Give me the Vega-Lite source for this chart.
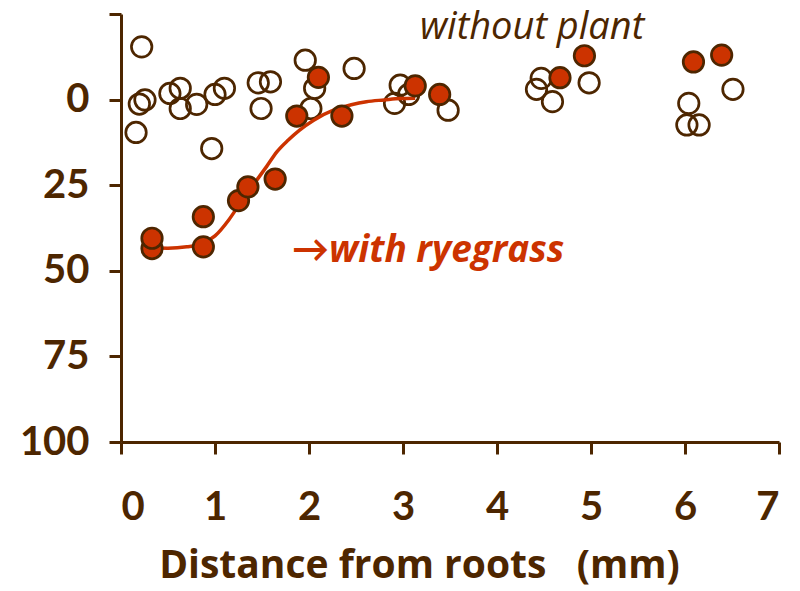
{
  "$schema": "https://vega.github.io/schema/vega-lite/v6.json",
  "width": 658,
  "height": 428,
  "autosize": "none",
  "padding": {"left": 121, "top": 14, "right": 21, "bottom": 149},
  "background": "white",
  "config": {"view": {"stroke": null}, "font": "Lato"},
  "datasets": {
    "points": [
      {"distance": 0.22, "value": -15.4, "treatment": "without plant"},
      {"distance": 0.195, "value": 1.3, "treatment": "without plant"},
      {"distance": 0.255, "value": 0.1, "treatment": "without plant"},
      {"distance": 0.16, "value": 9.6, "treatment": "without plant"},
      {"distance": 0.52, "value": -1.8, "treatment": "without plant"},
      {"distance": 0.63, "value": -3.3, "treatment": "without plant"},
      {"distance": 0.63, "value": 2.6, "treatment": "without plant"},
      {"distance": 0.805, "value": 1.4, "treatment": "without plant"},
      {"distance": 0.965, "value": 14.3, "treatment": "without plant"},
      {"distance": 1.0, "value": -1.5, "treatment": "without plant"},
      {"distance": 1.1, "value": -3.3, "treatment": "without plant"},
      {"distance": 1.46, "value": -4.9, "treatment": "without plant"},
      {"distance": 1.59, "value": -5.2, "treatment": "without plant"},
      {"distance": 1.49, "value": 2.6, "treatment": "without plant"},
      {"distance": 1.96, "value": -11.5, "treatment": "without plant"},
      {"distance": 2.06, "value": -3.3, "treatment": "without plant"},
      {"distance": 2.02, "value": 2.6, "treatment": "without plant"},
      {"distance": 2.48, "value": -9.1, "treatment": "without plant"},
      {"distance": 2.91, "value": 1.1, "treatment": "without plant"},
      {"distance": 2.97, "value": -4.2, "treatment": "without plant"},
      {"distance": 3.06, "value": -1.5, "treatment": "without plant"},
      {"distance": 3.48, "value": 3.1, "treatment": "without plant"},
      {"distance": 4.47, "value": -6.2, "treatment": "without plant"},
      {"distance": 4.42, "value": -3.0, "treatment": "without plant"},
      {"distance": 4.59, "value": 0.6, "treatment": "without plant"},
      {"distance": 4.98, "value": -4.9, "treatment": "without plant"},
      {"distance": 6.04, "value": 1.1, "treatment": "without plant"},
      {"distance": 6.02, "value": 7.4, "treatment": "without plant"},
      {"distance": 6.15, "value": 7.4, "treatment": "without plant"},
      {"distance": 6.51, "value": -3.0, "treatment": "without plant"},
      {"distance": 0.33, "value": 43.5, "treatment": "with ryegrass"},
      {"distance": 0.33, "value": 40.5, "treatment": "with ryegrass"},
      {"distance": 0.876, "value": 43.0, "treatment": "with ryegrass"},
      {"distance": 0.876, "value": 34.2, "treatment": "with ryegrass"},
      {"distance": 1.25, "value": 29.5, "treatment": "with ryegrass"},
      {"distance": 1.35, "value": 25.5, "treatment": "with ryegrass"},
      {"distance": 1.64, "value": 23.2, "treatment": "with ryegrass"},
      {"distance": 1.87, "value": 4.8, "treatment": "with ryegrass"},
      {"distance": 2.1, "value": -6.5, "treatment": "with ryegrass"},
      {"distance": 2.35, "value": 4.8, "treatment": "with ryegrass"},
      {"distance": 3.13, "value": -4.0, "treatment": "with ryegrass"},
      {"distance": 3.39, "value": -1.5, "treatment": "with ryegrass"},
      {"distance": 4.67, "value": -6.4, "treatment": "with ryegrass"},
      {"distance": 4.93, "value": -12.8, "treatment": "with ryegrass"},
      {"distance": 6.09, "value": -11.0, "treatment": "with ryegrass"},
      {"distance": 6.39, "value": -13.0, "treatment": "with ryegrass"}
    ],
    "curve": [
      {"distance": 0.33, "value": 43.3},
      {"distance": 0.5, "value": 43.4},
      {"distance": 0.7, "value": 43.0},
      {"distance": 0.85, "value": 42.2},
      {"distance": 1.0, "value": 39.8},
      {"distance": 1.15, "value": 35.0},
      {"distance": 1.25, "value": 31.0},
      {"distance": 1.35, "value": 27.0},
      {"distance": 1.45, "value": 23.3},
      {"distance": 1.55, "value": 19.5},
      {"distance": 1.66, "value": 15.2},
      {"distance": 1.78, "value": 11.8},
      {"distance": 1.9, "value": 8.9},
      {"distance": 2.05, "value": 6.0},
      {"distance": 2.26, "value": 3.1},
      {"distance": 2.45, "value": 1.5},
      {"distance": 2.61, "value": 0.6},
      {"distance": 2.8, "value": 0.1},
      {"distance": 2.97, "value": -0.3},
      {"distance": 3.13, "value": -0.4}
    ],
    "labels": [
      {"label": "without plant", "distance": 3.18, "value": -17.8, "treatment": "without plant"},
      {"label": "→with ryegrass", "distance": 1.82, "value": 47.4, "treatment": "with ryegrass"}
    ]
  },
  "encoding": {
    "x": {
      "field": "distance",
      "type": "quantitative",
      "scale": {"domain": [0, 7], "nice": false, "zero": false},
      "axis": {
        "values": [0, 1, 2, 3, 4, 5, 6, 7],
        "grid": false,
        "domainColor": "#4d2600",
        "domainWidth": 3,
        "tickColor": "#4d2600",
        "tickWidth": 3,
        "tickSize": 12,
        "labelFont": "Lato",
        "labelFontWeight": "bold",
        "labelFontSize": 40,
        "labelColor": "#4d2600",
        "labelPadding": 33,
        "title": "Distance from roots\u00a0\u00a0\u00a0(mm)",
        "titleFont": "Open Sans",
        "titleFontWeight": "bold",
        "titleFontSize": 39,
        "titleColor": "#4d2600",
        "titleBaseline": "alphabetic",
        "titleAnchor": "start",
        "titleAlign": "center",
        "titleX": 298,
        "titleY": 135
      }
    },
    "y": {
      "field": "value",
      "type": "quantitative",
      "scale": {"domain": [-25, 100], "reverse": true, "nice": false, "zero": false},
      "axis": {
        "values": [-25, 0, 25, 50, 75, 100],
        "labelExpr": "datum.value < 0 ? '' : datum.label",
        "grid": false,
        "domainColor": "#4d2600",
        "domainWidth": 3,
        "tickColor": "#4d2600",
        "tickWidth": 3,
        "tickSize": 12,
        "labelFont": "Lato",
        "labelFontWeight": "bold",
        "labelFontSize": 40,
        "labelColor": "#4d2600",
        "labelPadding": 20,
        "title": null
      }
    }
  },
  "layer": [
    {
      "mark": {"type": "rule", "color": "#4d2600", "strokeWidth": 2.5, "strokeDash": [3, 3]},
      "encoding": {
        "x": {"datum": 0},
        "x2": {"datum": 7},
        "y": {"datum": 0}
      }
    },
    {
      "data": {"name": "points"},
      "transform": [{"filter": "datum.treatment === 'without plant'"}],
      "mark": {"type": "point", "shape": "circle", "filled": false, "stroke": "#4d2600", "strokeWidth": 2.7, "size": 420, "opacity": 1}
    },
    {
      "data": {"name": "curve"},
      "mark": {"type": "line", "color": "#cc3300", "strokeWidth": 3.5, "interpolate": "monotone"}
    },
    {
      "data": {"name": "points"},
      "transform": [{"filter": "datum.treatment === 'with ryegrass'"}],
      "mark": {"type": "point", "shape": "circle", "filled": true, "fill": "#cc3300", "stroke": "#4d2600", "strokeWidth": 2.7, "size": 420, "opacity": 1, "fillOpacity": 1}
    },
    {
      "data": {"name": "labels"},
      "transform": [{"filter": "datum.treatment === 'without plant'"}],
      "mark": {"type": "text", "align": "left", "baseline": "alphabetic", "font": "Open Sans", "fontStyle": "italic", "fontSize": 38, "color": "#4d2600"},
      "encoding": {"text": {"field": "label"}}
    },
    {
      "data": {"name": "labels"},
      "transform": [{"filter": "datum.treatment === 'with ryegrass'"}],
      "mark": {"type": "text", "align": "left", "baseline": "alphabetic", "font": "'Open Sans', Lato", "fontStyle": "italic", "fontWeight": "bold", "fontSize": 37, "color": "#cc3300"},
      "encoding": {"text": {"field": "label"}}
    }
  ]
}
